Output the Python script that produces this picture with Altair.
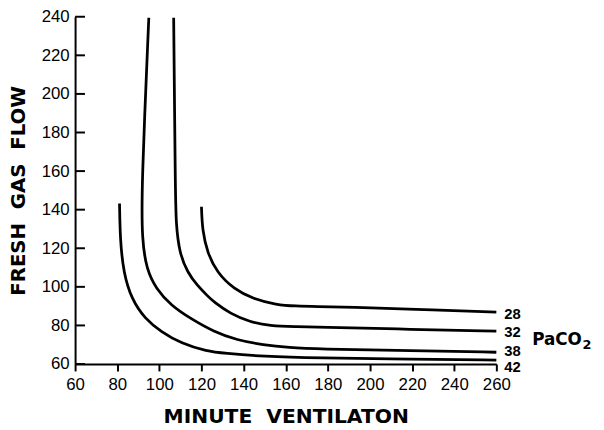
import altair as alt
import pandas as pd

# PaCO2 curves: (minute ventilation, fresh gas flow)
paco2 = ["28", "32", "38", "42"]

x_28 = [120.0, 120.4, 122.8, 127.4, 135.3, 144.6, 155.5, 164.9, 174.3, 191.2, 220.0, 260.0]
y_28 = [141.5, 129.5, 117.6, 107.4, 98.9, 93.7, 90.7, 90.0, 89.8, 89.5, 88.4, 86.9]

x_32 = [106.8, 107.6, 107.9, 109.5, 113.4, 118.1, 122.8, 125.9, 133.7, 143.0, 152.4, 164.9, 174.3, 220.0, 260.0]
y_32 = [239.5, 150.0, 133.0, 117.6, 107.4, 100.6, 95.4, 92.1, 86.1, 81.8, 79.8, 79.3, 79.1, 78.0, 77.0]

x_38 = [95.0, 91.5, 91.8, 93.9, 98.5, 105.6, 114.9, 125.9, 136.8, 149.3, 161.8, 174.3, 220.0, 260.0]
y_38 = [239.5, 150.0, 124.4, 109.1, 98.9, 90.3, 83.5, 76.7, 72.4, 69.9, 68.5, 67.8, 66.9, 66.1]

x_42 = [81.1, 81.4, 83.0, 86.8, 93.1, 100.9, 110.3, 122.8, 130.6, 149.3, 174.3, 220.0, 260.0]
y_42 = [143.2, 124.4, 107.3, 93.7, 83.5, 76.7, 70.7, 66.5, 65.6, 63.9, 63.1, 62.6, 62.0]

label_y = [86.1, 76.4, 66.6, 58.4]
label_x = [260, 260, 260, 260]

x_ticks = [60, 80, 100, 120, 140, 160, 180, 200, 220, 240, 260]
y_ticks = [60, 80, 100, 120, 140, 160, 180, 200, 220, 240]

legend_main = "PaCO"
legend_sub = "2"
legend_x = [277.0]
legend_y = [72.3]

rows = []
for name, xs, ys in [("28", x_28, y_28), ("32", x_32, y_32), ("38", x_38, y_38), ("42", x_42, y_42)]:
    for i, (a, b) in enumerate(zip(xs, ys)):
        rows.append({"vent": a, "flow": b, "paco2": name, "order": i})
curves = pd.DataFrame(rows)

labels = pd.DataFrame({"vent": label_x, "flow": label_y, "text": paco2})
ticks = pd.DataFrame({"flow": y_ticks})
legend = pd.DataFrame({"vent": legend_x, "flow": legend_y, "main": [legend_main], "sub": [legend_sub]})

xscale = alt.Scale(domain=[60, 260], nice=False, zero=False)
yscale = alt.Scale(domain=[60, 240], nice=False, zero=False)

xaxis = alt.Axis(
    values=x_ticks, grid=False, tickSize=7, tickWidth=2, domainWidth=2,
    domainColor="black", tickColor="black", labelColor="black",
    labelFont="Liberation Sans", labelFontSize=17, labelPadding=6,
    labelFlush=False, labelOverlap=False,
    title="MINUTE\u00a0 VENTILATON", titleFont="DejaVu Sans", titleFontWeight="bold",
    titleFontSize=20.5, titleColor="black", titlePadding=14,
)
yaxis = alt.Axis(
    values=y_ticks, grid=False, ticks=False, tickSize=0, domainWidth=2,
    domainColor="black", labelColor="black",
    labelFont="Liberation Sans", labelFontSize=17, labelPadding=6,
    labelFlush=False, labelOverlap=False,
    title="FRESH\u00a0 GAS\u00a0 FLOW", titleFont="DejaVu Sans", titleFontWeight="bold",
    titleFontSize=20, titleColor="black", titlePadding=13,
)


def X(field):
    return alt.X(field, scale=xscale, axis=xaxis)


def Y(field):
    return alt.Y(field, scale=yscale, axis=yaxis)


lines = alt.Chart(curves).mark_line(
    color="black", strokeWidth=2.8, interpolate="basis", clip=False
).encode(
    x=X("vent:Q"),
    y=Y("flow:Q"),
    detail="paco2:N",
    order="order:Q",
)

inward_ticks = alt.Chart(ticks).mark_rule(color="black", strokeWidth=2).encode(
    x=alt.datum(60, scale=xscale, axis=xaxis),
    x2=alt.value(10),
    y=Y("flow:Q"),
)

end_labels = alt.Chart(labels).mark_text(
    align="left", baseline="middle", dx=8, font="Liberation Sans",
    fontWeight="bold", fontSize=15, color="black",
).encode(
    x=X("vent:Q"),
    y=Y("flow:Q"),
    text="text:N",
)

legend_text = alt.Chart(legend).mark_text(
    align="left", baseline="middle", font="DejaVu Sans",
    fontWeight="bold", fontSize=17, color="black",
).encode(
    x=X("vent:Q"),
    y=Y("flow:Q"),
    text="main:N",
)

legend_subscript = alt.Chart(legend).mark_text(
    align="left", baseline="middle", font="DejaVu Sans", dx=51, dy=5,
    fontWeight="bold", fontSize=13, color="black",
).encode(
    x=X("vent:Q"),
    y=Y("flow:Q"),
    text="sub:N",
)

chart = alt.layer(lines, inward_ticks, end_labels, legend_text, legend_subscript).properties(
    width=427, height=352,
    autosize=alt.AutoSizeParams(type="none"),
    padding={"left": 68, "top": 6, "right": 101, "bottom": 63},
    background="white",
).configure_view(strokeWidth=0)

chart.save("out.html", embed_options={"renderer": "svg", "actions": False})
